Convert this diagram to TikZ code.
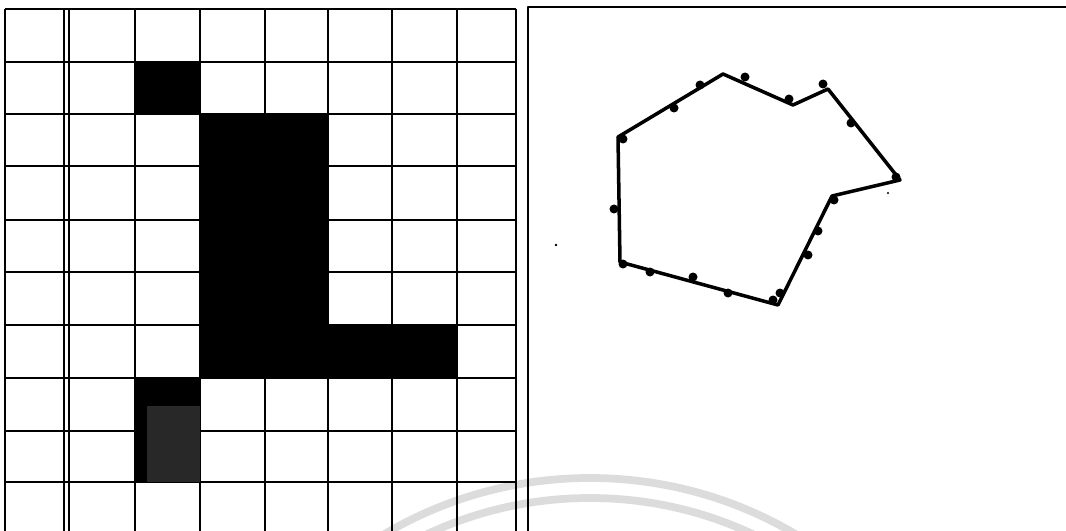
\documentclass[tikz,border=0pt]{standalone}
\usetikzlibrary{calc}
\definecolor{grauzelle}{RGB}{40,40,40}
\definecolor{wasserzeichen}{RGB}{220,220,220}

\begin{document}
\begin{tikzpicture}[x=0.025cm, y=-0.025cm, line join=round,
	gitter/.style={black, line width=1.5pt},
	kontur/.style={black, line width=2.5pt},
	punkt/.style={black}]

	\useasboundingbox (0,0) rectangle (1066,531);
	\fill[white] (0,0) rectangle (1066,531);

	% wasserzeichen
	\begin{scope}
		\clip (0,0) rectangle (1066,531);
		\draw[wasserzeichen, line width=5.5pt] (590,882) circle[radius=404];
		\draw[wasserzeichen, line width=5.5pt] (590,882) circle[radius=384];
	\end{scope}

	% raster links
	\foreach \x in {5,64,69,135,200,265,328,392,457,516}
		\draw[gitter] (\x,9) -- (\x,531);
	\foreach \y in {9,62,114,166,220,272,325,378,431,482}
		\draw[gitter] (5,\y) -- (516,\y);

	\fill (135,62) rectangle (200,114);
	\fill (200,114) rectangle (328,378);
	\fill (328,325) rectangle (457,378);
	\fill (135,378) rectangle (200,482);
	\fill[grauzelle] (147,406) rectangle (200,482);

	% rechtes feld
	\draw[gitter] (528,531) -- (528,7) -- (1066,7);

	\draw[kontur] (618,137) -- (723,74) -- (793,105) -- (828,89) -- (900,180)
		-- (832,196) -- (778,305) -- (620,262) -- cycle;

	\foreach \p in {(623,139),(674,108),(700,85),(745,77),(789,99),(823,84),
		(851,123),(896,177),(834,200),(818,231),(808,255),(780,293),(773,300),
		(728,293),(693,277),(650,272),(623,264),(614,209)}
		\fill[punkt] \p circle[radius=3.2pt];

	\fill[punkt] (556,245) circle[radius=1pt];
	\fill[punkt] (888,193) circle[radius=0.8pt];

\end{tikzpicture}
\end{document}
